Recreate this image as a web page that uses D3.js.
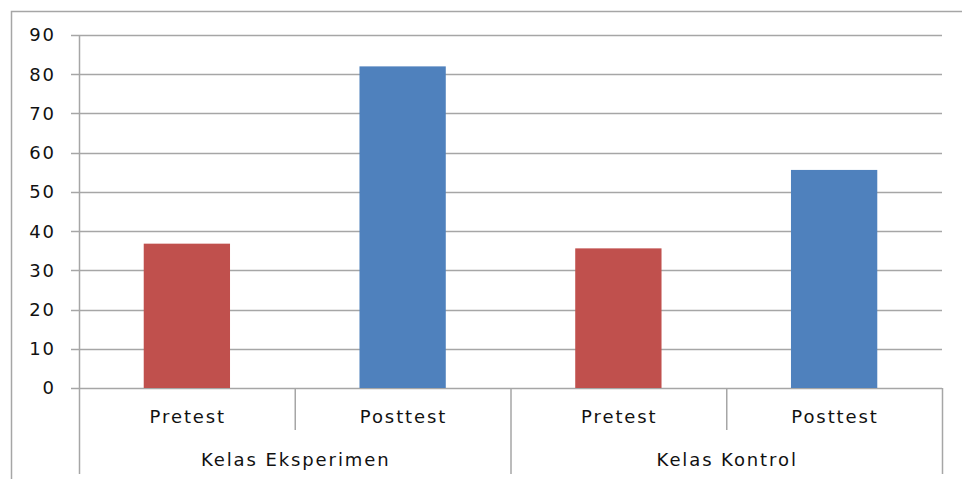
<!DOCTYPE html>
<html>
<head>
<meta charset="utf-8">
<script src="https://cdn.jsdelivr.net/npm/d3@7"></script>
<style>
  body { margin: 0; background: #fff; }
  text { font-family: "DejaVu Sans", Verdana, sans-serif; fill: #111; }
</style>
</head>
<body>
<div id="container"></div>
<script>
// data
let groups = ["Kelas Eksperimen", "Kelas Kontrol"];
let tests = ["Pretest", "Posttest"];
let values = [36.8, 82, 35.6, 55.6];   // Eksperimen pre, post, Kontrol pre, post
let barColors = ["#C0504D", "#4F81BD"];
let yTicks = [0, 10, 20, 30, 40, 50, 60, 70, 80, 90];

let w = 962;
let h = 479;
let plotLeft = 79, plotRight = 942, plotTop = 35, plotBottom = 388;
let gridColor = "#a6a6a6";
let spacing = 1.9;   // text in the picture is a bit stretched

let viz = d3.select("#container")
  .append("svg")
    .attr("width", w)
    .attr("height", h)
    .style("display", "block");

// outer frame (only left and top are inside the picture)
viz.append("path")
  .attr("d", "M11.5," + h + " V11.5 H" + w)
  .attr("fill", "none")
  .attr("stroke", gridColor)
  .attr("stroke-width", 1.5);

let yScale = d3.scaleLinear().domain([0, 90]).range([plotBottom, plotTop]);

let cats = values.map((v, i) => i);
let xScale = d3.scaleBand().domain(cats).range([plotLeft, plotRight]).padding(0);
let bw = xScale.bandwidth();

// gridlines + tick marks
viz.selectAll(".grid").data(yTicks).enter()
  .append("line")
    .attr("x1", plotLeft - 8)
    .attr("x2", plotRight)
    .attr("y1", d => Math.round(yScale(d)) + 0.5)
    .attr("y2", d => Math.round(yScale(d)) + 0.5)
    .attr("stroke", gridColor)
    .attr("stroke-width", 1.5);

viz.selectAll(".ylab").data(yTicks).enter()
  .append("text")
    .attr("x", 54 + spacing)
    .attr("y", d => yScale(d))
    .attr("dy", "0.36em")
    .attr("text-anchor", "end")
    .attr("font-size", 18)
    .style("letter-spacing", spacing + "px")
    .text(d => d);

// y axis line down into the category area
viz.append("line")
  .attr("x1", plotLeft + 0.5).attr("x2", plotLeft + 0.5)
  .attr("y1", plotTop).attr("y2", 474)
  .attr("stroke", gridColor).attr("stroke-width", 1.5);

// bars
viz.selectAll(".bar").data(values).enter()
  .append("rect")
    .attr("x", (d, i) => xScale(i) + bw * 0.3)
    .attr("width", bw * 0.4)
    .attr("y", d => yScale(d))
    .attr("height", d => yScale(0) - yScale(d))
    .attr("fill", (d, i) => barColors[i % 2]);

// inner category separators
[1, 3].forEach(i => {
  viz.append("line")
    .attr("x1", xScale(i) + 0.5).attr("x2", xScale(i) + 0.5)
    .attr("y1", plotBottom).attr("y2", 430)
    .attr("stroke", gridColor).attr("stroke-width", 1.5);
});
// group separators
[2, 4].forEach(i => {
  let x = i < 4 ? xScale(i) : plotRight;
  viz.append("line")
    .attr("x1", x + 0.5).attr("x2", x + 0.5)
    .attr("y1", plotBottom).attr("y2", 474)
    .attr("stroke", gridColor).attr("stroke-width", 1.5);
});

// category labels
viz.selectAll(".clab").data(cats).enter()
  .append("text")
    .attr("x", i => xScale(i) + bw / 2 + spacing / 2)
    .attr("y", 417)
    .attr("dy", "0.36em")
    .attr("text-anchor", "middle")
    .attr("font-size", 18)
    .style("letter-spacing", spacing + "px")
    .text(i => tests[i % 2]);

viz.selectAll(".glab").data(groups).enter()
  .append("text")
    .attr("x", (d, i) => xScale(i * 2) + bw + spacing / 2)
    .attr("y", 460)
    .attr("dy", "0.36em")
    .attr("text-anchor", "middle")
    .attr("font-size", 18)
    .style("letter-spacing", spacing + "px")
    .text(d => d);
</script>
</body>
</html>
